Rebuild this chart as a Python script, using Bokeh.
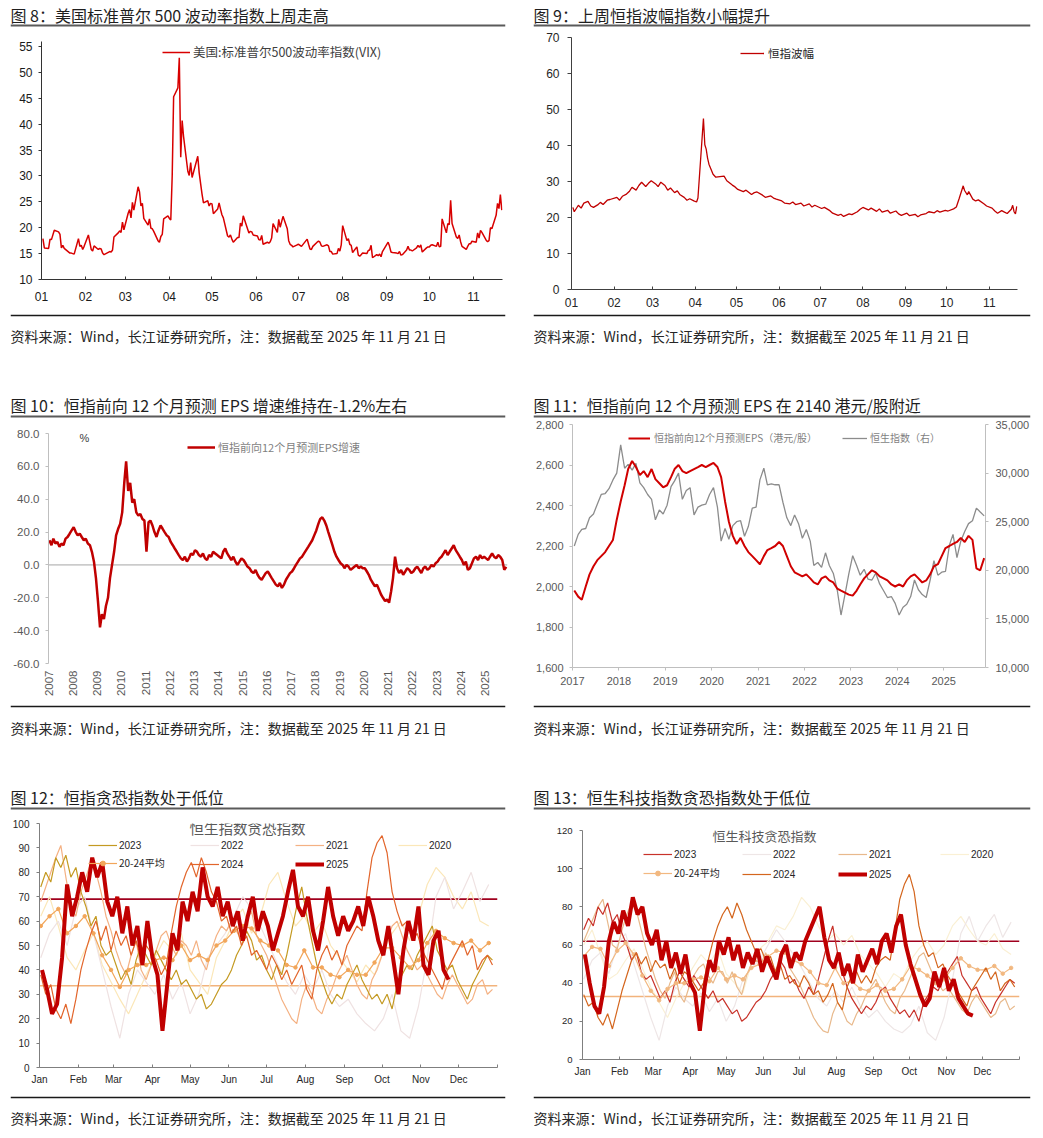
import math
import numpy as np
import pandas as pd
from bokeh.plotting import figure
from bokeh.models import (Range1d, LinearAxis, Span, Label, Legend, LegendItem,
                          FixedTicker, NumeralTickFormatter)
from bokeh.layouts import column, row
from bokeh.embed import file_html
from bokeh.resources import INLINE
from bokeh.core.properties import value

CJK = "Noto Sans CJK SC"
LAT = "Liberation Sans"

# ------------------------------------------------------------------ titles
titles = ["图 8：美国标准普尔 500 波动率指数上周走高",
          "图 9：上周恒指波幅指数小幅提升",
          "图 10：恒指前向 12 个月预测 EPS 增速维持在-1.2%左右",
          "图 11：恒指前向 12 个月预测 EPS 在 2140 港元/股附近",
          "图 12：恒指贪恐指数处于低位",
          "图 13：恒生科技指数贪恐指数处于低位"]
source = "资料来源：Wind，长江证券研究所，注：数据截至 2025 年 11 月 21 日"
month_num_labels = ["01", "02", "03", "04", "05", "06", "07", "08", "09", "10", "11"]
month_abbr = ["Jan", "Feb", "Mar", "Apr", "May", "Jun", "Jul", "Aug", "Sep", "Oct", "Nov", "Dec"]

# ------------------------------------------------------------------ panel 8: VIX 2025 (date, close)
vix = [("01-02",17.9),("01-03",16.1),("01-06",16.0),("01-07",17.8),("01-08",17.7),("01-10",19.5),("01-13",19.2),
       ("01-14",18.7),("01-15",16.1),("01-16",16.6),("01-17",16.0),("01-21",15.1),("01-22",15.1),("01-23",15.0),
       ("01-24",14.9),("01-27",17.9),("01-28",16.4),("01-29",16.6),("01-30",15.8),("01-31",16.4),
       ("02-03",18.6),("02-04",17.2),("02-05",15.8),("02-06",15.5),("02-07",16.5),("02-10",15.8),("02-11",16.0),
       ("02-12",15.9),("02-13",15.1),("02-14",14.8),("02-18",15.4),("02-19",15.3),("02-20",15.7),("02-21",18.2),
       ("02-24",19.0),("02-25",19.4),("02-26",19.1),("02-27",21.1),("02-28",19.6),
       ("03-03",22.8),("03-04",23.5),("03-05",21.9),("03-06",24.9),("03-07",23.4),("03-10",27.9),("03-11",26.9),
       ("03-12",24.2),("03-13",24.7),("03-14",21.8),("03-17",20.5),("03-18",21.7),("03-19",19.9),("03-20",19.8),
       ("03-21",19.3),("03-24",17.5),("03-25",17.2),("03-26",18.3),("03-27",18.7),("03-28",21.7),("03-31",22.3),
       ("04-01",21.8),("04-02",21.5),("04-03",30.0),("04-04",45.3),("04-07",47.0),("04-08",52.8),("04-09",33.6),
       ("04-10",40.7),("04-11",37.6),("04-14",30.9),("04-15",30.1),("04-16",32.6),("04-17",29.7),("04-21",33.8),
       ("04-22",30.6),("04-23",28.5),("04-24",26.5),("04-25",24.8),("04-28",25.2),("04-29",24.2),("04-30",24.7),
       ("05-01",24.6),("05-02",22.7),("05-05",23.6),("05-06",24.8),("05-07",23.6),("05-08",22.5),("05-09",21.9),
       ("05-12",18.4),("05-13",18.2),("05-14",18.6),("05-15",17.8),("05-16",17.2),("05-19",18.1),("05-20",18.1),
       ("05-21",20.9),("05-22",20.3),("05-23",22.3),("05-27",19.0),("05-28",19.3),("05-29",19.2),("05-30",18.6),
       ("06-02",18.4),("06-03",17.7),("06-04",17.6),("06-05",18.5),("06-06",16.8),("06-09",17.2),("06-10",17.0),
       ("06-11",17.3),("06-12",18.0),("06-13",20.8),("06-16",19.1),("06-17",21.6),("06-18",20.1),("06-20",22.2),
       ("06-23",19.8),("06-24",17.5),("06-25",16.8),("06-26",16.6),("06-27",16.3),("06-30",16.7),
       ("07-01",16.8),("07-02",16.6),("07-03",16.4),("07-07",17.8),("07-08",16.8),("07-09",15.9),("07-10",15.8),
       ("07-11",16.4),("07-14",17.2),("07-15",17.4),("07-16",17.2),("07-17",16.5),("07-18",16.4),("07-21",16.7),
       ("07-22",16.5),("07-23",15.4),("07-24",15.4),("07-25",14.9),("07-28",15.0),("07-29",16.0),("07-30",15.5),
       ("07-31",16.7),
       ("08-01",20.4),("08-04",17.5),("08-05",17.9),("08-06",16.8),("08-07",16.6),("08-08",15.2),("08-11",16.3),
       ("08-12",14.7),("08-13",14.5),("08-14",14.8),("08-15",15.1),("08-18",15.0),("08-19",15.6),("08-20",15.7),
       ("08-21",16.6),("08-22",14.2),("08-25",14.8),("08-26",14.6),("08-27",14.9),("08-28",14.4),("08-29",15.4),
       ("09-02",17.2),("09-03",16.4),("09-04",15.3),("09-05",15.2),("09-08",15.1),("09-09",15.0),("09-10",15.4),
       ("09-11",14.7),("09-12",14.8),("09-15",15.7),("09-16",16.4),("09-17",15.7),("09-18",15.7),("09-19",15.5),
       ("09-22",16.1),("09-23",16.6),("09-24",16.2),("09-25",16.7),("09-26",15.3),("09-29",16.1),("09-30",16.3),
       ("10-01",16.3),("10-02",16.6),("10-03",16.7),("10-06",16.4),("10-07",17.2),("10-08",16.3),("10-09",16.4),
       ("10-10",21.7),("10-13",19.0),("10-14",20.8),("10-15",20.6),("10-16",25.3),("10-17",20.8),("10-20",18.2),
       ("10-21",17.9),("10-22",18.6),("10-23",17.3),("10-24",16.4),("10-27",15.8),("10-28",16.4),("10-29",16.9),
       ("10-30",16.9),("10-31",17.4),
       ("11-03",17.2),("11-04",19.0),("11-05",18.0),("11-06",19.5),("11-07",19.1),("11-10",17.6),("11-11",17.3),
       ("11-12",17.5),("11-13",20.0),("11-14",19.8),("11-17",22.4),("11-18",24.7),("11-19",23.7),("11-20",26.4),
       ("11-21",23.4)]

# ------------------------------------------------------------------ panel 9: VHSI 2025 (date, value)
vhsi = [("01-02",22.8),("01-03",21.6),("01-06",23.4),("01-08",22.6),("01-10",24.0),("01-13",24.5),("01-15",23.2),
        ("01-17",22.8),("01-20",23.5),("01-22",24.2),("01-24",23.6),("01-27",24.8),("01-29",25.0),
        ("02-03",25.6),("02-05",24.8),("02-07",25.9),("02-10",26.5),("02-12",27.2),("02-14",28.4),("02-17",27.6),
        ("02-19",28.9),("02-21",29.8),("02-24",28.6),("02-26",29.5),("02-28",30.2),
        ("03-03",29.4),("03-05",28.6),("03-07",29.8),("03-10",28.9),("03-12",27.6),("03-14",28.2),("03-17",26.9),
        ("03-19",27.4),("03-21",26.3),("03-24",25.6),("03-26",24.8),("03-28",25.2),("03-31",24.6),
        ("04-02",24.3),("04-03",25.4),("04-07",47.5),("04-08",40.2),("04-09",39.0),("04-10",36.5),("04-11",34.8),
        ("04-14",32.0),("04-16",31.2),("04-22",31.5),("04-24",30.2),("04-28",29.0),("04-30",28.5),
        ("05-02",27.8),("05-06",27.2),("05-08",27.6),("05-12",26.4),("05-14",26.9),("05-16",27.1),("05-20",26.2),
        ("05-22",25.6),("05-26",26.0),("05-28",25.4),("05-30",25.1),
        ("06-03",24.6),("06-05",24.0),("06-09",23.8),("06-11",24.3),("06-13",23.6),("06-17",24.0),("06-19",23.2),
        ("06-23",23.8),("06-25",22.9),("06-27",23.4),
        ("07-02",22.5),("07-04",22.8),("07-08",21.9),("07-10",21.2),("07-14",20.6),("07-16",20.9),("07-18",20.3),
        ("07-22",21.0),("07-24",20.8),("07-28",21.6),("07-30",22.3),
        ("08-01",22.8),("08-05",22.1),("08-07",22.6),("08-11",21.7),("08-13",22.4),("08-15",21.5),("08-19",22.0),
        ("08-21",21.2),("08-25",21.8),("08-27",21.0),("08-29",20.6),
        ("09-02",21.2),("09-04",20.5),("09-08",20.9),("09-10",20.2),("09-12",20.7),("09-16",21.1),("09-18",21.6),
        ("09-22",21.3),("09-24",21.9),("09-26",21.5),("09-30",22.0),
        ("10-02",21.8),("10-06",22.4),("10-08",22.9),("10-10",25.2),("10-13",28.8),("10-14",27.5),("10-16",26.3),
        ("10-17",27.2),("10-20",25.1),("10-22",24.6),("10-24",24.9),("10-28",23.8),("10-30",23.2),
        ("11-03",22.6),("11-05",21.8),("11-07",21.2),("11-10",21.9),("11-12",21.5),("11-14",21.1),("11-17",22.3),
        ("11-18",23.4),("11-19",21.6),("11-20",21.0),("11-21",23.1)]

# ------------------------------------------------------------------ panel 10: HSI fwd-12m EPS growth (%), monthly 2007-01 .. 2025-11
eps_growth = [
    15, 12, 16, 13, 14, 11, 13, 12, 16, 17, 19, 21,        # 2007
    23, 20, 18, 19, 17, 15, 16, 13, 12, 8, 2, -8,          # 2008
    -22, -38, -30, -33, -25, -20, -8, 0, 8, 18, 22, 25,    # 2009
    32, 50, 63, 45, 50, 38, 40, 32, 30, 31, 28, 27,        # 2010
    8, 26, 27, 24, 20, 17, 21, 24, 22, 20, 18, 17,         # 2011
    14, 12, 10, 8, 6, 4, 3, 5, 2, 4, 7, 6,                 # 2012
    9, 8, 6, 5, 7, 4, 3, 6, 5, 8, 7, 6,                    # 2013
    5, 4, 8, 10, 7, 5, 3, 5, 2, 0, 2, 4,                   # 2014
    3, 1, -1, -2, -4, -5, -3, -6, -8, -9, -7, -5,          # 2015
    -4, -6, -8, -10, -12, -13, -11, -14, -12, -9, -7, -5,  # 2016
    -4, -2, 0, 2, 4, 5, 7, 9, 11, 13, 15, 18,              # 2017
    21, 25, 28, 29, 27, 24, 20, 16, 12, 8, 5, 3,           # 2018
    1, 0, -2, 0, -1, -3, -2, -1, 0, -2, -1, -2,            # 2019
    -2, -4, -6, -9, -11, -13, -12, -15, -18, -20, -22, -21,# 2020
    -23, -16, -8, 5, -2, -5, -3, -6, -4, -2, -3, -5,       # 2021
    -4, -2, -1, -3, -5, -2, -1, -3, -2, 0, -1, 1,          # 2022
    2, 4, 5, 7, 9, 6, 8, 10, 12, 9, 7, 5,                  # 2023
    3, 0, 2, -3, -2, 1, 4, 5, 3, 6, 4, 5,                  # 2024
    4, 3, 5, 7, 5, 4, 6, 5, 3, -3, -1.2]                   # 2025
eps_growth_start = "2007-01-01"
years_10 = list(range(2007, 2026))

# ------------------------------------------------------------------ panel 11: fwd EPS (HKD) and HSI, monthly 2017-01 .. 2025-11
eps_fwd = [
    1980, 1950, 1935, 2000, 2060, 2100, 2130, 2150, 2170, 2200, 2230, 2330,  # 2017
    2420, 2500, 2580, 2620, 2590, 2550, 2570, 2540, 2580, 2530, 2510, 2490,  # 2018
    2500, 2540, 2580, 2600, 2570, 2560, 2570, 2580, 2590, 2600, 2590, 2600,  # 2019
    2610, 2590, 2540, 2420, 2320, 2250, 2210, 2240, 2200, 2170, 2150, 2130,  # 2020
    2110, 2150, 2180, 2190, 2200, 2220, 2200, 2150, 2100, 2070, 2060, 2050,  # 2021
    2060, 2040, 2020, 2010, 2040, 2050, 2030, 2020, 1990, 1980, 1970, 1960,  # 2022
    1955, 1980, 2010, 2040, 2060, 2080, 2070, 2050, 2040, 2030, 2010, 2000,  # 2023
    2010, 2000, 2030, 2050, 2060, 2040, 2020, 2030, 2060, 2100, 2110, 2150,  # 2024
    2190, 2200, 2210, 2220, 2240, 2220, 2250, 2230, 2090, 2080, 2140]        # 2025
hsi_index = [
    22500, 23700, 24200, 24300, 25400, 25800, 26800, 27800, 27900, 28400, 29300, 30000,  # 2017
    32900, 30500, 30900, 30300, 31000, 29000, 28500, 27800, 27300, 25200, 26200, 25800,  # 2018
    26700, 28600, 29200, 30000, 27300, 28200, 28500, 25700, 26500, 26700, 26800, 27800,  # 2019
    28500, 26500, 23000, 24300, 23200, 24600, 25000, 25100, 23500, 24500, 26400, 26500,  # 2020
    29300, 30500, 28800, 28900, 28800, 28800, 27000, 25400, 24600, 25700, 24800, 23300,  # 2021
    24200, 23000, 20500, 20800, 20300, 21800, 20500, 19700, 18000, 15400, 17500, 19600,  # 2022
    21500, 20500, 19500, 20100, 19100, 19000, 19700, 18600, 17900, 17200, 17300, 16600,  # 2023
    15400, 16200, 16500, 17300, 19000, 18000, 17500, 17200, 19000, 21000, 19500, 19800,  # 2024
    19900, 22600, 23700, 21300, 23000, 24000, 24800, 25100, 26400, 26000, 25600]         # 2025
series_start_11 = "2017-01-01"
years_11 = list(range(2017, 2026))

# ------------------------------------------------------------------ panel 12: HSI fear & greed
# weekly (52 values) or every 4 days (91 values); 2025 every 4 days from Jan 3
hsi_fg_2020 = [62,70,58,45, 40,48,55,42, 35,28,22,30,38, 45,52,48,55, 40,35,30,45,52, 60,65,55,62,
               75,80,68,58,62, 55,60,50,45, 40,35,42,38, 48,55,60,52,62, 75,82,78,70, 65,72,60,58]
hsi_fg_2021 = [68,74,80,86,91,78,66,62, 72,78,84,80,72,62,56, 48,42,38,46,52,40,36,42, 48,54,56,50,46,52,50,
               46,52,44,40,48,54,58,56, 60,56,52,60,64,54,50, 46,40,34,28,24,20,18,28, 34,30,24,22,28,32,38,42,
               46,40,34,30,28,36,40, 46,52,58,60,54,48,44,40, 42,38,34,30,28,34,38, 34,30,26,28,34,36,30,32]
hsi_fg_2022 = [45,55,60,50, 65,70,55,40, 25,12,30,40,35, 30,38,28,35, 22,30,45,50,55, 62,70,65,58,
               50,42,35,30,38, 32,40,30,25, 28,22,18,15, 20,30,15,12,25, 45,70,78,65, 72,80,68,75]
hsi_fg_2023 = [74,80,76,86,82,87,78,82, 72,66,58,62,50,46,48, 42,36,40,34,44,50,46,42, 48,44,40,36,40,34,36,
               32,28,30,24,26,30,34,36, 40,46,50,56,52,44,46, 40,36,42,38,46,56,66,74, 62,52,42,36,30,26,30,28,
               34,38,42,36,32,28,30, 26,30,24,34,38,42,40,46, 50,54,58,48,44,40,42, 36,32,28,34,38,42,46,44]
hsi_fg_2024 = [38,30,34,24,20,26,18,28, 40,48,55,60,52,58,48, 56,50,54,46,52,44,50,47, 44,38,42,55,66,74,80,
               84,78,86,80,72,68,60,62, 55,58,50,54,46,48,44, 40,46,42,36,40,34,38,42, 32,28,40,46,50,44,48,42,
               50,54,58,56,72,86,92, 95,88,72,64,58,60,52,55, 48,44,40,36,32,40,44, 48,52,46,50,40,44,46,42]
hsi_fg_avg = [58,62,65,55, 58,62,55,46, 40,33,40,42,42, 44,45,44,50, 44,46,44,50,52, 56,58,57,52,
              50,48,42,41,48, 41,41,38,37, 40,38,38,43, 49,49,45,41,44, 51,56,53,51, 50,52,48,51]
hsi_fg_2025 = [40,32,22,26,45,75,62,70,80,72, 86,78,84,68,62,70,55,66,50,58, 42,60,45,38,15,35,55,48,68,60,
               72,64,82,70,66,74,62,68,58,64, 52,62,70,56,64,58,48,55,62,72, 81,66,62,70,56,48,60,74,62,54,
               62,56,60,66,58,70,62,52,46,58, 44,30,48,60,52,66,42,38,52,56, 40,36]
hsi_fg_hi, hsi_fg_lo = 69, 33.5

# ------------------------------------------------------------------ panel 13: HSTECH fear & greed
hst_fg_2020 = [60,68,55,42, 45,52,58,48, 38,30,22,32,40, 48,55,50,58, 45,40,35,50,58, 62,70,68,75,
               85,80,70,62,66, 60,65,55,50, 45,38,45,42, 52,58,62,55,60, 70,75,68,62, 60,66,58,55]
hst_fg_2021 = [62,68,74,80,84,72,60,58, 68,76,82,78,68,58,50, 42,36,32,40,46,34,30,38, 44,48,50,44,40,46,46,
               40,46,38,34,44,50,52,50, 56,50,46,54,58,48,44, 40,34,28,22,18,15,14,24, 30,26,20,18,24,28,34,38,
               42,36,30,26,24,32,36, 42,48,54,56,50,44,40,36, 38,34,30,26,24,30,34, 30,26,22,24,30,32,26,28]
hst_fg_2022 = [42,52,56,45, 60,66,50,36, 22,10,28,38,32, 28,35,25,32, 20,28,42,48,52, 60,68,62,55,
               48,40,32,28,36, 30,38,28,22, 26,20,16,14, 18,28,14,10,22, 42,66,75,62, 70,76,64,72]
hst_fg_2023 = [68,74,70,80,76,82,72,76, 66,60,52,56,46,42,44, 38,32,36,30,40,46,42,38, 44,40,36,32,36,30,32,
               28,24,26,20,22,26,30,32, 36,42,46,52,48,40,42, 36,32,38,34,42,52,62,70, 56,46,38,32,28,24,28,26,
               30,36,38,32,28,24,26, 22,26,20,30,34,38,36,42, 46,50,54,44,40,36,38, 32,28,24,30,34,38,42,40]
hst_fg_2024 = [34,28,30,22,18,24,16,26, 36,44,52,56,50,54,46, 52,48,50,42,48,40,46,44, 40,36,40,52,62,70,76,
               80,74,82,76,68,62,56,58, 52,54,46,50,42,44,40, 38,44,40,34,36,30,34,40, 30,26,38,44,46,40,44,40,
               48,52,54,52,68,84,92, 97,88,70,60,54,56,48,50, 44,40,36,32,28,36,40, 44,48,42,46,36,40,42,38]
hst_fg_avg = [54,59,58,49, 57,61,55,44, 36,31,37,40,40, 42,43,41,48, 42,44,42,48,50, 54,57,56,52,
              50,46,40,39,48, 40,41,37,36, 39,36,37,42, 49,47,44,40,42, 48,53,49,47, 47,49,45,48]
hst_fg_2025 = [55,40,28,24,38,62,72,66,78,70, 85,76,80,66,60,68,52,62,48,56, 45,55,40,35,15,38,52,46,62,55,
               64,52,60,48,56,50,58,46,54,48, 42,55,60,48,56,52,62,68,74,80, 64,52,48,56,44,50,40,55,46,52,
               58,50,62,66,56,70,76,60,50,42, 34,28,32,46,38,48,36,42,32,28, 24,23]
hst_fg_hi, hst_fg_lo = 62, 33

# ================================================================== helpers
W_L, W_R = 522, 519
PAD_L, RULE_L = 10, 495
PAD_R, RULE_R = 11, 497


def no_align(f):
    try:
        f.frame_align = False
    except Exception:
        pass
    return f


def base_fig(width, height, **kw):
    f = figure(width=width, height=height, toolbar_location=None, output_backend="svg",
               outline_line_color=None, background_fill_color="white", border_fill_color="white", **kw)
    return no_align(f)


def head_fig(text, width, pad, rule_w, height, t_top, r_top):
    f = base_fig(width, height, x_range=Range1d(0, 1), y_range=Range1d(0, height),
                 x_axis_location=None, y_axis_location=None,
                 min_border_left=pad, min_border_right=width - pad - rule_w,
                 min_border_top=0, min_border_bottom=0)
    f.grid.visible = False
    f.add_layout(Label(x=0, y=height - t_top, x_units="screen", text=text, text_font=CJK,
                       text_font_size="16px", text_color="#1F1F1F", text_baseline="middle"))
    f.add_layout(Span(location=height - r_top, dimension="width", line_color="#5A5A5A", line_width=2))
    return f


def foot_fig(text, width, pad, rule_w, height, s_top):
    f = base_fig(width, height, x_range=Range1d(0, 1), y_range=Range1d(0, height),
                 x_axis_location=None, y_axis_location=None,
                 min_border_left=pad, min_border_right=width - pad - rule_w,
                 min_border_top=0, min_border_bottom=0)
    f.grid.visible = False
    f.add_layout(Span(location=height - 2, dimension="width", line_color="#1A1A1A", line_width=1.5))
    f.add_layout(Label(x=0, y=height - s_top, x_units="screen", text=text, text_font=CJK,
                       text_font_size="14px", text_color="#262626", text_baseline="middle"))
    return f


def style_axis(ax, size, color, line_color, tick_in=0, tick_out=3, standoff=5, font=LAT):
    ax.major_label_text_font = font
    ax.major_label_text_font_size = size
    ax.major_label_text_color = color
    ax.axis_line_color = line_color
    ax.major_tick_line_color = line_color
    ax.major_tick_in = tick_in
    ax.major_tick_out = tick_out
    ax.minor_tick_line_color = None
    ax.major_label_standoff = standoff


def add_legend(p, label, renderers, x, y, size, color, glyph_w=28, standoff=3, font=CJK):
    lg = Legend(items=[LegendItem(label=value(label), renderers=renderers)], location=(x, y),
                orientation="horizontal", padding=0, margin=0, spacing=0,
                glyph_width=glyph_w, glyph_height=12, label_height=12, label_standoff=standoff,
                label_text_font=font, label_text_font_size=size, label_text_color=color,
                background_fill_alpha=0, border_line_color=None)
    p.add_layout(lg)


def doy(md, year=2025):
    return (pd.Timestamp(f"{year}-{md}") - pd.Timestamp(f"{year}-01-01")).days


def dec_year(start, n):
    d = pd.date_range(start, periods=n, freq="MS") + pd.Timedelta(days=14)
    return np.asarray(d.year + (d.dayofyear - 1) / 365.0)


month_starts = [doy(f"{m:02d}-01") for m in range(1, 13)]

# ================================================================== panel 8
x8 = [doy(d) for d, _ in vix]
y8 = [v for _, v in vix]
p8 = base_fig(W_L, 285, x_range=Range1d(0, 324.5), y_range=Range1d(10, 55.96),
              min_border_left=41, min_border_right=20, min_border_top=13, min_border_bottom=34)
p8.grid.visible = False
r8 = p8.line(x8, y8, line_color="#D80000", line_width=1.5)
p8.xaxis.ticker = FixedTicker(ticks=month_starts[:11])
p8.xaxis.major_label_overrides = {t: month_num_labels[i] for i, t in enumerate(month_starts[:11])}
p8.yaxis.ticker = FixedTicker(ticks=list(range(10, 56, 5)))
style_axis(p8.xaxis[0], "12px", "#1A1A1A", "#333333", tick_in=3, tick_out=0, standoff=12)
style_axis(p8.yaxis[0], "12px", "#1A1A1A", "#333333", tick_in=0, tick_out=3, standoff=6)
add_legend(p8, "美国:标准普尔500波动率指数(VIX)", [r8], 121, 218, "12.5px", "#404040")

# ================================================================== panel 9
x9 = [doy(d) for d, _ in vhsi]
y9 = [v for _, v in vhsi]
p9 = base_fig(W_R, 285, x_range=Range1d(0, 324.5), y_range=Range1d(0, 70),
              min_border_left=49, min_border_right=24, min_border_top=9, min_border_bottom=24)
p9.grid.visible = False
r9 = p9.line(x9, y9, line_color="#C00000", line_width=1.3)
p9.xaxis.ticker = FixedTicker(ticks=month_starts[:11])
p9.xaxis.major_label_overrides = {t: month_num_labels[i] for i, t in enumerate(month_starts[:11])}
p9.yaxis.ticker = FixedTicker(ticks=list(range(0, 71, 10)))
style_axis(p9.xaxis[0], "12px", "#262626", "#404040", tick_in=3, tick_out=0, standoff=8)
style_axis(p9.yaxis[0], "12px", "#262626", "#404040", tick_in=0, tick_out=4, standoff=8)
add_legend(p9, "恒指波幅", [r9], 169, 228, "11.5px", "#262626", glyph_w=24, standoff=4)

# ================================================================== panel 10
x10 = dec_year(eps_growth_start, len(eps_growth))
p10 = base_fig(W_L, 286, x_range=Range1d(2007, 2025.92), y_range=Range1d(-60, 80),
               min_border_left=48, min_border_right=15, min_border_top=15, min_border_bottom=41)
p10.grid.visible = False
p10.add_layout(Span(location=0, dimension="width", line_color="#A6A6A6", line_width=1, level="underlay"))
r10 = p10.line(x10, eps_growth, line_color="#C00000", line_width=2.5)
p10.xaxis.ticker = FixedTicker(ticks=years_10)
p10.xaxis.major_label_orientation = math.pi / 2
p10.yaxis.ticker = FixedTicker(ticks=list(range(-60, 81, 20)))
p10.yaxis.formatter = NumeralTickFormatter(format="0.0")
style_axis(p10.xaxis[0], "11.5px", "#595959", None, tick_in=0, tick_out=0, standoff=7)
style_axis(p10.yaxis[0], "11.5px", "#595959", "#BFBFBF", tick_in=0, tick_out=3, standoff=6)
p10.add_layout(Label(x=31, y=226, x_units="screen", y_units="screen", text="%", text_font=LAT,
                     text_font_size="11px", text_color="#404040", text_baseline="middle"))
add_legend(p10, "恒指前向12个月预测EPS增速", [r10], 139, 208, "11px", "#7F7F7F", glyph_w=28, standoff=3)

# ================================================================== panel 11
x11 = dec_year(series_start_11, len(eps_fwd))
p11 = base_fig(W_R, 286, x_range=Range1d(2017, 2025.9), y_range=Range1d(1600, 2800),
               min_border_left=50, min_border_right=56, min_border_top=6, min_border_bottom=37)
p11.grid.visible = False
p11.extra_y_ranges = {"hsi": Range1d(10000, 35000)}
r11b = p11.line(x11, hsi_index, line_color="#8C8C8C", line_width=1.3, y_range_name="hsi")
r11a = p11.line(x11, eps_fwd, line_color="#D00000", line_width=2)
ax_r = LinearAxis(y_range_name="hsi", ticker=FixedTicker(ticks=list(range(10000, 35001, 5000))),
                  formatter=NumeralTickFormatter(format="0,0"))
p11.add_layout(ax_r, "right")
p11.xaxis.ticker = FixedTicker(ticks=years_11)
p11.yaxis[0].ticker = FixedTicker(ticks=list(range(1600, 2801, 200)))
p11.yaxis[0].formatter = NumeralTickFormatter(format="0,0")
style_axis(p11.xaxis[0], "11px", "#595959", "#BFBFBF", tick_in=0, tick_out=3, standoff=6)
style_axis(p11.yaxis[0], "11px", "#595959", "#BFBFBF", tick_in=0, tick_out=3, standoff=6)
style_axis(ax_r, "11px", "#595959", "#BFBFBF", tick_in=0, tick_out=3, standoff=7)
add_legend(p11, "恒指前向12个月预测EPS（港元/股）", [r11a], 56, 222, "10px", "#7F7F7F", glyph_w=22, standoff=4)
add_legend(p11, "恒生指数（右）", [r11b], 270, 222, "10px", "#7F7F7F", glyph_w=25, standoff=3)


# ================================================================== panels 12 / 13
def fg_panel(width, height, borders, ymax, ystep, ysize, series, colors, hi, lo, hi_col, lo_col,
             title, title_pos, title_size, leg_pos, leg_rows):
    bl, br, bt, bb = borders
    p = base_fig(width, height, x_range=Range1d(0, 365), y_range=Range1d(0, ymax),
                 min_border_left=bl, min_border_right=br, min_border_top=bt, min_border_bottom=bb)
    p.grid.visible = False
    p.add_layout(Span(location=hi, dimension="width", line_color=hi_col, line_width=1.6, level="underlay"))
    p.add_layout(Span(location=lo, dimension="width", line_color=lo_col, line_width=1.6, level="underlay"))
    rends = {}
    for name in ["2020", "2022", "2021", "2023", "20-24平均", "2024", "2025"]:
        vals = series[name]
        if name == "2025":
            xs = 2 + 4 * np.arange(len(vals))
            rends[name] = [p.line(xs, vals, line_color=colors[name], line_width=4)]
        else:
            step = 7 if len(vals) == 52 else 4
            xs = 1 + step * np.arange(len(vals))
            r = p.line(xs, vals, line_color=colors[name], line_width=1.2)
            rends[name] = [r]
            if name == "20-24平均":
                rends[name].append(p.scatter(xs, vals, size=3.5, marker="circle",
                                             fill_color=colors[name], line_color=colors[name]))
    ticks = month_starts + [365]
    p.xaxis.ticker = FixedTicker(ticks=ticks)
    overrides = {t: month_abbr[i] for i, t in enumerate(month_starts)}
    overrides[365] = ""
    p.xaxis.major_label_overrides = overrides
    p.yaxis.ticker = FixedTicker(ticks=list(range(0, ymax + 1, ystep)))
    style_axis(p.xaxis[0], "10px", "#262626", "#7F7F7F", tick_in=3, tick_out=0, standoff=6)
    style_axis(p.yaxis[0], ysize, "#262626", "#7F7F7F", tick_in=0, tick_out=3, standoff=7)
    p.add_layout(Label(x=title_pos[0], y=title_pos[1], x_units="screen", y_units="screen", text=title,
                       text_font=CJK, text_font_size=title_size, text_color="#595959",
                       text_align="center", text_baseline="middle"))
    order = ["2023", "2022", "2021", "2020", "20-24平均", "2024", "2025"]
    for i, name in enumerate(order):
        rr = 0 if i < 4 else 1
        cc = i if i < 4 else i - 4
        add_legend(p, name, rends[name], leg_pos[cc], leg_rows[rr], "10px", "#262626",
                   glyph_w=29, standoff=2, font=CJK if "平" in name else LAT)
    return p


colors12 = {"2023": "#C49A22", "2022": "#EFE2E2", "2021": "#F4B183", "2020": "#FBE7B8",
            "20-24平均": "#F2A65A", "2024": "#E2652B", "2025": "#C00000"}
series12 = {"2023": hsi_fg_2023, "2022": hsi_fg_2022, "2021": hsi_fg_2021, "2020": hsi_fg_2020,
            "20-24平均": hsi_fg_avg, "2024": hsi_fg_2024, "2025": hsi_fg_2025}
p12 = fg_panel(W_L, 285, (39, 25, 13, 28), 100, 10, "10px", series12, colors12,
               hsi_fg_hi, hsi_fg_lo, "#A0001E", "#F2B37C",
               "恒生指数贪恐指数", (208, 240), "14.5px", [49, 151, 256, 359], [216, 197])

colors13 = {"2023": "#C8322A", "2022": "#EEE6E6", "2021": "#E8B98C", "2020": "#FAF0D4",
            "20-24平均": "#F2B880", "2024": "#D4661E", "2025": "#C00000"}
series13 = {"2023": hst_fg_2023, "2022": hst_fg_2022, "2021": hst_fg_2021, "2020": hst_fg_2020,
            "20-24平均": hst_fg_avg, "2024": hst_fg_2024, "2025": hst_fg_2025}
p13 = fg_panel(W_R, 285, (60, 22, 20, 36), 120, 20, "9.5px", series13, colors13,
               hst_fg_hi, hst_fg_lo, "#A0001E", "#F2B37C",
               "恒生科技贪恐指数", (182, 224), "13px", [61, 160, 256, 358], [199, 179])

# ================================================================== layout (page has no margin)
col8 = column(head_fig(titles[0], W_L, PAD_L, RULE_L, 28, 14, 25), p8,
              foot_fig(source, W_L, PAD_L, RULE_L, 77, 22))
col9 = column(head_fig(titles[1], W_R, PAD_R, RULE_R, 28, 14, 25), p9,
              foot_fig(source, W_R, PAD_R, RULE_R, 77, 22))
col10 = column(head_fig(titles[2], W_L, PAD_L, RULE_L, 28, 14, 26), p10,
               foot_fig(source, W_L, PAD_L, RULE_L, 76, 23))
col11 = column(head_fig(titles[3], W_R, PAD_R, RULE_R, 28, 14, 26), p11,
               foot_fig(source, W_R, PAD_R, RULE_R, 76, 23))
col12 = column(head_fig(titles[4], W_L, PAD_L, RULE_L, 30, 16, 28), p12,
               foot_fig(source, W_L, PAD_L, RULE_L, 41, 22))
col13 = column(head_fig(titles[5], W_R, PAD_R, RULE_R, 30, 16, 28), p13,
               foot_fig(source, W_R, PAD_R, RULE_R, 41, 22))

page = column(row(col8, col9), row(col10, col11), row(col12, col13))
open("out.html", "w").write(file_html(page, INLINE))
